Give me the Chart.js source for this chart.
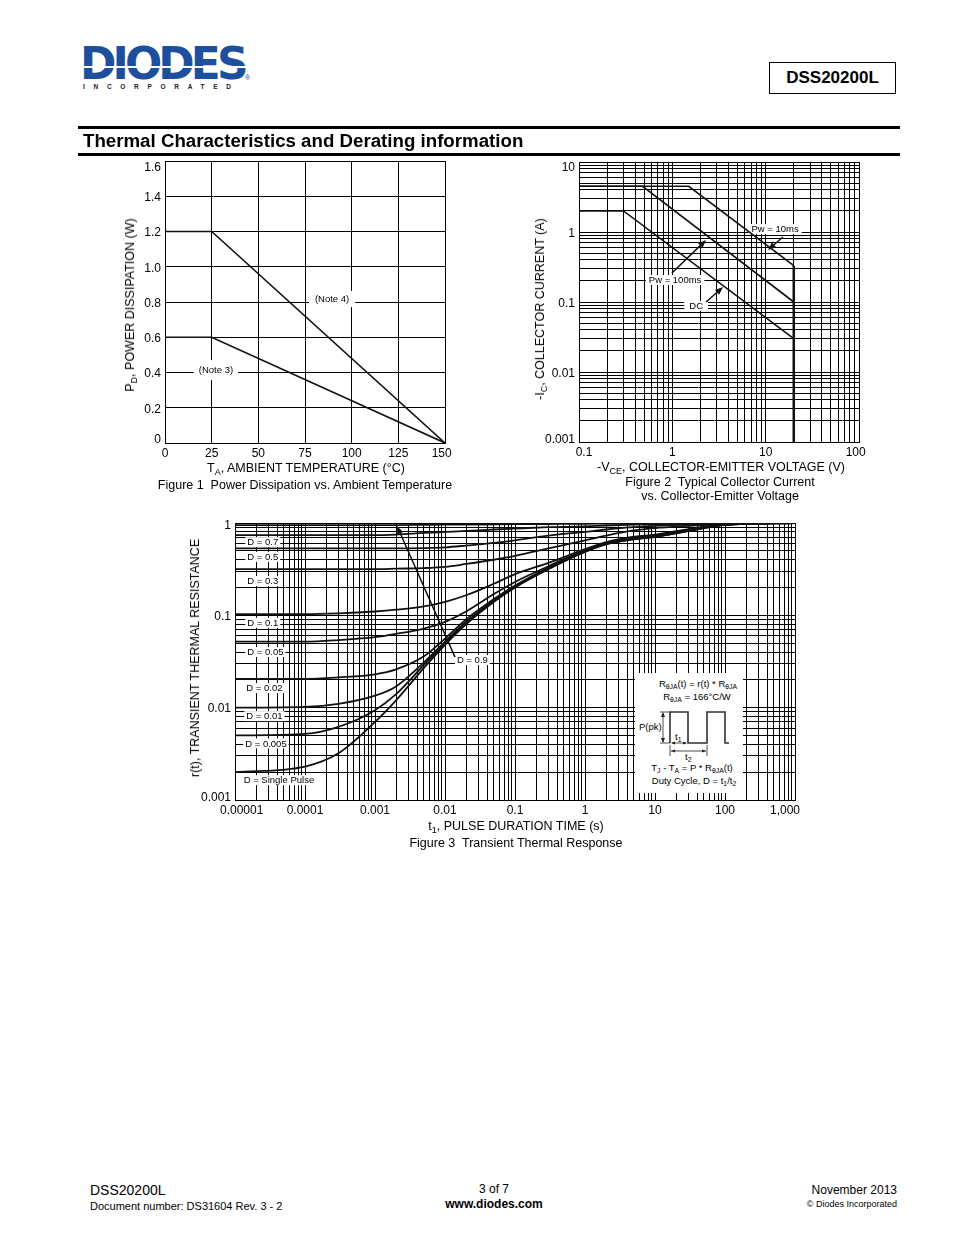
<!DOCTYPE html>
<html>
<head>
<meta charset="utf-8">
<title>DSS20200L thermal characteristics</title>
<script src="https://cdn.jsdelivr.net/npm/chart.js@4.4.1/dist/chart.umd.min.js"></script>
<style>
  body { margin: 0; background: #fff; font-family: 'Liberation Sans', Arial, sans-serif; color: #000; }
  #page { position: relative; width: 954px; height: 1235px; overflow: hidden; background: #fff; }
  .abs { position: absolute; white-space: nowrap; z-index: 2; }
  .c { transform: translate(-50%, -50%); }
  .rot { transform: translate(-50%, -50%) rotate(-90deg); }
  .title12 { font-size: 12.5px; line-height: 14px; }
  sub { font-size: 0.72em; vertical-align: -0.3em; line-height: 0; }
  canvas { position: absolute; z-index: 1; }
  #logo { left: 80px; top: 37px; font-family: 'DejaVu Sans', sans-serif; font-weight: bold; font-size: 45px;
          color: #1d4f9c; letter-spacing: -4px; transform: scaleX(0.975); transform-origin: left top; }
  #logoStripe { left: 82px; top: 66px; width: 164px; height: 2px; background: #fff; z-index: 3; }
  #inc { left: 83px; top: 83px; font-size: 6.5px; font-weight: bold; letter-spacing: 8.7px; color: #222; }
  #reg { left: 245px; top: 74px; font-size: 7px; color: #1d4f9c; }
  #partBox { left: 769px; top: 62px; width: 127px; height: 32px; box-sizing: border-box; border: 1.5px solid #000;
             font-weight: bold; font-size: 17px; line-height: 29px; text-align: center; }
  .rule { position: absolute; left: 78px; width: 822px; height: 3px; background: #000; }
  #inset { left: 635px; top: 673px; width: 108px; height: 120px; background: #fff; font-size: 9.5px; }
  #inset span { position: absolute; white-space: nowrap; line-height: 10px; }
</style>
</head>
<body>
<div id="page">
  <div class="abs" id="logo">DIODES</div>
  <div class="abs" id="logoStripe"></div>
  <div class="abs" id="inc">INCORPORATED</div>
  <div class="abs" id="reg">®</div>
  <div class="abs" id="partBox">DSS20200L</div>

  <div class="rule" style="top:126px"></div>
  <div class="abs" style="left:83px; top:130px; font-size:18.7px; font-weight:bold;">Thermal Characteristics and Derating information</div>
  <div class="rule" style="top:153px"></div>

  <canvas id="powerChart" width="350" height="320" style="left:110px; top:150px;"></canvas>
  <canvas id="socChart" width="360" height="320" style="left:520px; top:150px;"></canvas>
  <canvas id="thermalChart" width="650" height="330" style="left:170px; top:510px;"></canvas>

  <!-- Figure 1 texts -->
  <div class="abs rot title12" style="left:130px; top:305px;">P<sub>D</sub>, POWER DISSIPATION (W)</div>
  <div class="abs c title12" style="left:306px; top:468px;">T<sub>A</sub>, AMBIENT TEMPERATURE (°C)</div>
  <div class="abs c title12" style="left:305px; top:485px; white-space:pre;">Figure 1  Power Dissipation vs. Ambient Temperature</div>

  <!-- Figure 2 texts -->
  <div class="abs rot title12" style="left:540px; top:309px;">-I<sub>C</sub>, COLLECTOR CURRENT (A)</div>
  <div class="abs c title12" style="left:721px; top:467px;">-V<sub>CE</sub>, COLLECTOR-EMITTER VOLTAGE (V)</div>
  <div class="abs c title12" style="left:720px; top:482px; white-space:pre;">Figure 2  Typical Collector Current</div>
  <div class="abs c title12" style="left:720px; top:496px;">vs. Collector-Emitter Voltage</div>

  <!-- Figure 3 texts -->
  <div class="abs rot title12" style="left:195px; top:658px;">r(t), TRANSIENT THERMAL RESISTANCE</div>
  <div class="abs c title12" style="left:516px; top:826px;">t<sub>1</sub>, PULSE DURATION TIME (s)</div>
  <div class="abs c title12" style="left:516px; top:843px; white-space:pre;">Figure 3  Transient Thermal Response</div>

  <div class="abs" id="inset">
    <svg width="108" height="120" style="position:absolute; left:0; top:0;">
      <g stroke="#333" fill="none" stroke-width="1.6">
        <polyline points="35,70 35,39 53,39 53,70 72,70 72,39 90,39 90,70 94,70"/>
      </g>
      <g stroke="#222" fill="none" stroke-width="0.8">
        <line x1="28" y1="40" x2="28" y2="69"/>
        <line x1="25" y1="39" x2="35" y2="39"/>
        <line x1="25" y1="70" x2="35" y2="70"/>
        <line x1="37" y1="70" x2="51" y2="70"/>
        <line x1="36" y1="78" x2="71" y2="78"/>
        <line x1="35" y1="72" x2="35" y2="83"/>
        <line x1="72" y1="72" x2="72" y2="83"/>
      </g>
      <g fill="#222">
        <polygon points="28,39 26,44 30,44"/>
        <polygon points="28,70 26,65 30,65"/>
        <polygon points="36,70 40,68.5 40,71.5"/>
        <polygon points="52,70 48,68.5 48,71.5"/>
        <polygon points="36,78 40,76.5 40,79.5"/>
        <polygon points="71,78 67,76.5 67,79.5"/>
      </g>
    </svg>
    <span style="left:63px; top:11px; transform:translate(-50%,-50%);">R<sub>θJA</sub>(t) = r(t) * R<sub>θJA</sub></span>
    <span style="left:62px; top:24px; transform:translate(-50%,-50%);">R<sub>θJA</sub> = 166°C/W</span>
    <span style="left:4px; top:54px; transform:translate(0,-50%);">P(pk)</span>
    <span style="left:40px; top:64px; transform:translate(0,-50%);">t<sub>1</sub></span>
    <span style="left:50px; top:84px; transform:translate(0,-50%);">t<sub>2</sub></span>
    <span style="left:57px; top:95px; transform:translate(-50%,-50%);">T<sub>J</sub> - T<sub>A</sub> = P * R<sub>θJA</sub>(t)</span>
    <span style="left:59px; top:108px; transform:translate(-50%,-50%);">Duty Cycle, D = t<sub>1</sub>/t<sub>2</sub></span>
  </div>

  <!-- footer -->
  <div class="abs" style="left:90px; top:1182px; font-size:14px;">DSS20200L</div>
  <div class="abs" style="left:90px; top:1200px; font-size:11px;">Document number: DS31604 Rev. 3 - 2</div>
  <div class="abs c" style="left:494px; top:1189px; font-size:12px;">3 of 7</div>
  <div class="abs c" style="left:494px; top:1204px; font-size:12px; font-weight:bold;">www.diodes.com</div>
  <div class="abs" style="right:57px; top:1183px; font-size:12px;">November 2013</div>
  <div class="abs" style="right:57px; top:1199px; font-size:9px;">© Diodes Incorporated</div>
</div>

<script>
// ---- Figure 1: power derating ----
const tempPoints = [0, 25, 150];
const note4Power = [1.2, 1.2, 0];
const note3Power = [0.6, 0.6, 0];

// ---- Figure 2: safe operating area ----
const dcVce = [0.1, 0.3, 20];
const dcIc = [2, 2, 0.03];
const pw100Vce = [0.1, 0.48, 20];
const pw100Ic = [4.5, 4.5, 0.1];
const pw10Vce = [0.1, 1.5, 20];
const pw10Ic = [4.5, 4.5, 0.33];
const limitVce = [20, 20];
const limitIc = [0.33, 0.001];
const vceDecades = [0.1, 1, 10, 100];
const vceTickLabels = ['   0.1', '1', '10', '100  '];
const icDecades = [0.001, 0.01, 0.1, 1, 10];
const icTickLabels = ['0.001', '0.01', '0.1', '1', '10'];

// ---- Figure 3: transient thermal response ----
const pulseTimes = [0.00001, 0.0001, 0.0003, 0.001, 0.002, 0.005, 0.01, 0.02, 0.05, 0.1, 0.3, 1, 2, 5, 10, 30, 100, 1000];
const rD09    = [0.95, 0.95, 0.95, 0.95, 0.95, 0.955, 0.96, 0.96, 0.965, 0.97, 0.975, 0.98, 0.985, 0.99, 0.99, 0.995, 1.0, 1.0];
const rD07    = [0.74, 0.74, 0.74, 0.74, 0.75, 0.78, 0.8, 0.82, 0.85, 0.87, 0.9, 0.92, 0.94, 0.96, 0.97, 0.98, 0.99, 1.0];
const rD05    = [0.53, 0.53, 0.53, 0.53, 0.53, 0.535, 0.545, 0.57, 0.61, 0.65, 0.73, 0.8, 0.85, 0.9, 0.93, 0.96, 0.99, 1.0];
const rD03    = [0.316, 0.316, 0.316, 0.316, 0.32, 0.325, 0.335, 0.36, 0.4, 0.44, 0.53, 0.65, 0.73, 0.83, 0.88, 0.93, 0.98, 1.0];
const rD01    = [0.103, 0.103, 0.105, 0.11, 0.115, 0.125, 0.14, 0.165, 0.22, 0.28, 0.37, 0.52, 0.62, 0.71, 0.75, 0.86, 0.97, 1.0];
const rD005   = [0.052, 0.052, 0.054, 0.058, 0.063, 0.072, 0.085, 0.11, 0.17, 0.23, 0.34, 0.51, 0.61, 0.69, 0.73, 0.84, 0.96, 1.0];
const rD002   = [0.0205, 0.0205, 0.0213, 0.023, 0.026, 0.036, 0.056, 0.09, 0.15, 0.21, 0.33, 0.5, 0.6, 0.68, 0.72, 0.83, 0.96, 1.0];
const rD001   = [0.01, 0.0102, 0.011, 0.0135, 0.017, 0.031, 0.052, 0.085, 0.145, 0.205, 0.325, 0.495, 0.595, 0.675, 0.715, 0.825, 0.96, 1.0];
const rD0005  = [0.005, 0.0052, 0.0062, 0.0094, 0.014, 0.029, 0.05, 0.082, 0.142, 0.202, 0.32, 0.49, 0.59, 0.67, 0.71, 0.82, 0.955, 1.0];
const rSingle = [0.002, 0.0023, 0.0032, 0.007, 0.012, 0.027, 0.048, 0.08, 0.14, 0.2, 0.315, 0.485, 0.585, 0.665, 0.705, 0.815, 0.955, 1.0];
const timeDecades = [0.00001, 0.0001, 0.001, 0.01, 0.1, 1, 10, 100, 1000];
const timeTickLabels = ['    0.00001', '0.0001', '0.001', '0.01', '0.1', '1', '10', '100', '1,000      '];
const rDecades = [0.001, 0.01, 0.1, 1];
const rTickLabels = ['0.001', '0.01', '0.1', '1'];
const tempTickLabels = ['0', '25', '50', '75', '100', '125', '150  '];
const minorSteps = [1, 2, 3, 4, 5, 6, 7, 8, 9];

const FONT = '"Liberation Sans", Arial, sans-serif';
Chart.defaults.font.family = FONT;
Chart.defaults.color = '#000';

function pairs(xs, ys) {
  return xs.map((x, i) => ({ x: x, y: ys[i] }));
}

// gridlines at 1..9 of each decade, last decade only its first line
function logGrid(decades) {
  const out = [];
  decades.forEach((d, i) => {
    if (i === decades.length - 1) { out.push(d); return; }
    minorSteps.forEach(m => out.push(d * m));
  });
  return out;
}

function decadeLabel(decades, labels) {
  return v => {
    const i = decades.findIndex(d => Math.abs(d - v) / d < 1e-6);
    return i >= 0 ? labels[i] : '';
  };
}

function line(data, width, smooth) {
  const ds = { data: data, borderColor: '#111', borderWidth: width, pointRadius: 0, fill: false, tension: 0 };
  if (smooth) ds.cubicInterpolationMode = 'monotone';
  return ds;
}

// labels with a white backing box, and arrows, placed in data units
function notesPlugin(labels, arrows) {
  return {
    id: 'notes',
    beforeDatasetsDraw(chart) {
      const { ctx, scales: { x, y } } = chart;
      ctx.save();
      ctx.font = '9.5px ' + FONT;
      ctx.textBaseline = 'middle';
      labels.forEach(l => {
        const px = x.getPixelForValue(l.x);
        const py = y.getPixelForValue(l.y);
        const w = ctx.measureText(l.text).width;
        const left = l.align === 'center' ? px - w / 2 : px;
        ctx.fillStyle = '#fff';
        ctx.fillRect(left - l.padX, py - l.padY, w + 2 * l.padX, 2 * l.padY);
        ctx.fillStyle = '#000';
        ctx.fillText(l.text, left, py + 0.5);
      });
      ctx.restore();
    },
    afterDatasetsDraw(chart) {
      const { ctx, scales: { x, y } } = chart;
      ctx.save();
      ctx.strokeStyle = '#111';
      ctx.fillStyle = '#111';
      ctx.lineWidth = 1.5;
      arrows.forEach(a => {
        const x0 = x.getPixelForValue(a.x0), y0 = y.getPixelForValue(a.y0);
        const x1 = x.getPixelForValue(a.x1), y1 = y.getPixelForValue(a.y1);
        const ang = Math.atan2(y1 - y0, x1 - x0);
        const hl = 8, hw = 3.2;
        ctx.beginPath();
        ctx.moveTo(x0, y0);
        ctx.lineTo(x1 - Math.cos(ang) * hl * 0.8, y1 - Math.sin(ang) * hl * 0.8);
        ctx.stroke();
        ctx.beginPath();
        ctx.moveTo(x1, y1);
        ctx.lineTo(x1 - Math.cos(ang) * hl - Math.sin(ang) * hw, y1 - Math.sin(ang) * hl + Math.cos(ang) * hw);
        ctx.lineTo(x1 - Math.cos(ang) * hl + Math.sin(ang) * hw, y1 - Math.sin(ang) * hl - Math.cos(ang) * hw);
        ctx.closePath();
        ctx.fill();
      });
      ctx.restore();
    }
  };
}

function near(a, b) {
  return Math.abs(a - b) <= Math.max(Math.abs(b), 1e-9) * 1e-6;
}

// keep the end labels of a vertical axis inside the plot, as on the printed sheet
function insideEnds(labelFn, min, max) {
  return v => {
    const t = labelFn(v);
    if (near(v, max)) return ['', t];
    if (near(v, min)) return [t, ''];
    return t;
  };
}

function axis(type, min, max, size, horizontal, extra) {
  const s = {
    type: type, min: min, max: max,
    grid: { color: '#000', lineWidth: 1, drawTicks: false },
    border: { display: true, color: '#000', width: 1 },
    ticks: { font: { size: 12 }, color: '#000', padding: horizontal ? 3 : 4,
             autoSkip: false, maxRotation: 0, minRotation: 0 },
    afterFit(scale) {
      if (horizontal) { scale.height = size; scale.paddingLeft = 0; scale.paddingRight = 0; }
      else { scale.width = size; scale.paddingTop = 0; scale.paddingBottom = 0; }
    }
  };
  if (extra.grid) {
    const g = extra.grid;
    s.afterBuildTicks = scale => { scale.ticks = g.map(v => ({ value: v })); };
  }
  if (extra.stepSize) s.ticks.stepSize = extra.stepSize;
  if (horizontal) {
    s.ticks.callback = extra.callback;
  } else {
    s.ticks.callback = insideEnds(extra.callback, min, max);
    s.ticks.labelOffset = 1.5;
    // line height sets how far the end labels move in from the plot edge
    const topLh = extra.topShift / 6, botLh = extra.bottomShift / 6;
    s.ticks.font = ctx => {
      const t = ctx.tick;
      if (t && near(t.value, max)) return { size: 12, lineHeight: topLh };
      if (t && near(t.value, min)) return { size: 12, lineHeight: botLh };
      return { size: 12 };
    };
  }
  return s;
}

const baseOptions = (padding, xScale, yScale) => ({
  responsive: false,
  animation: false,
  layout: { padding: padding },
  plugins: { legend: { display: false }, tooltip: { enabled: false } },
  scales: { x: xScale, y: yScale }
});

// Figure 1
new Chart(document.getElementById('powerChart'), {
  type: 'line',
  data: { datasets: [line(pairs(tempPoints, note4Power), 1.6), line(pairs(tempPoints, note3Power), 1.6)] },
  options: baseOptions({ left: 0, top: 11, right: 15, bottom: 0 },
    axis('linear', 0, 150, 27, true, { stepSize: 25, callback: (v, i) => tempTickLabels[i] }),
    axis('linear', 0, 1.6, 55, false, { stepSize: 0.2, topShift: 5, bottomShift: 5,
      callback: v => (Math.abs(v) < 1e-9 ? '0' : v.toFixed(1)) })),
  plugins: [notesPlugin([
    { text: '(Note 4)', x: 89.5, y: 0.817, align: 'center', padX: 6, padY: 8 },
    { text: '(Note 3)', x: 27.3, y: 0.414, align: 'center', padX: 5, padY: 10 }
  ], [])]
});

// Figure 2
new Chart(document.getElementById('socChart'), {
  type: 'line',
  data: { datasets: [
    line(pairs(dcVce, dcIc), 1.6),
    line(pairs(pw100Vce, pw100Ic), 1.6),
    line(pairs(pw10Vce, pw10Ic), 1.6),
    line(pairs(limitVce, limitIc), 2.5)
  ] },
  options: baseOptions({ left: 0, top: 12, right: 21, bottom: 0 },
    axis('logarithmic', 0.1, 100, 28, true, { grid: logGrid(vceDecades), callback: decadeLabel(vceDecades, vceTickLabels) }),
    axis('logarithmic', 0.001, 10, 59, false, { grid: logGrid(icDecades), topShift: 4, bottomShift: 4,
      callback: decadeLabel(icDecades, icTickLabels) })),
  plugins: [notesPlugin([
    { text: 'Pw = 10ms', x: 12.6, y: 1.1, align: 'center', padX: 3, padY: 5 },
    { text: 'Pw = 100ms', x: 1.07, y: 0.206, align: 'center', padX: 3, padY: 5 },
    { text: 'DC', x: 1.8, y: 0.088, align: 'center', padX: 5, padY: 5 }
  ], [
    { x0: 15.3, y0: 0.85, x1: 10.6, y1: 0.553 },
    { x0: 0.99, y0: 0.26, x1: 2.3, y1: 0.77 },
    { x0: 2.3, y0: 0.1, x1: 3.49, y1: 0.164 }
  ])]
});

// Figure 3
const dutySeries = [rD09, rD07, rD05, rD03, rD01, rD005, rD002, rD001, rD0005, rSingle];
new Chart(document.getElementById('thermalChart'), {
  type: 'line',
  data: { datasets: dutySeries.map(s => line(pairs(pulseTimes, s), 1.8, true)) },
  options: baseOptions({ left: 0, top: 13, right: 25, bottom: 0 },
    axis('logarithmic', 0.00001, 1000, 40, true, { grid: logGrid(timeDecades), callback: decadeLabel(timeDecades, timeTickLabels) }),
    axis('logarithmic', 0.001, 1, 65, false, { grid: logGrid(rDecades), topShift: 1, bottomShift: 4,
      callback: decadeLabel(rDecades, rTickLabels) })),
  plugins: [notesPlugin([
    { text: 'D = 0.7', x: 0.000015, y: 0.62, align: 'left', padX: 2, padY: 5 },
    { text: 'D = 0.5', x: 0.000015, y: 0.43, align: 'left', padX: 2, padY: 5 },
    { text: 'D = 0.3', x: 0.000015, y: 0.235, align: 'left', padX: 2, padY: 5 },
    { text: 'D = 0.1', x: 0.000015, y: 0.083, align: 'left', padX: 2, padY: 5 },
    { text: 'D = 0.05', x: 0.000015, y: 0.04, align: 'left', padX: 2, padY: 5 },
    { text: 'D = 0.02', x: 0.0000145, y: 0.0163, align: 'left', padX: 2, padY: 5 },
    { text: 'D = 0.01', x: 0.0000145, y: 0.0081, align: 'left', padX: 2, padY: 5 },
    { text: 'D = 0.005', x: 0.000014, y: 0.0041, align: 'left', padX: 2, padY: 5 },
    { text: 'D = Single Pulse', x: 0.0000133, y: 0.00164, align: 'left', padX: 2, padY: 5 },
    { text: 'D = 0.9', x: 0.0148, y: 0.0328, align: 'left', padX: 2, padY: 5 }
  ], [
    { x0: 0.0139, y0: 0.0353, x1: 0.00206, y1: 0.93 }
  ])]
});
</script>
</body>
</html>
